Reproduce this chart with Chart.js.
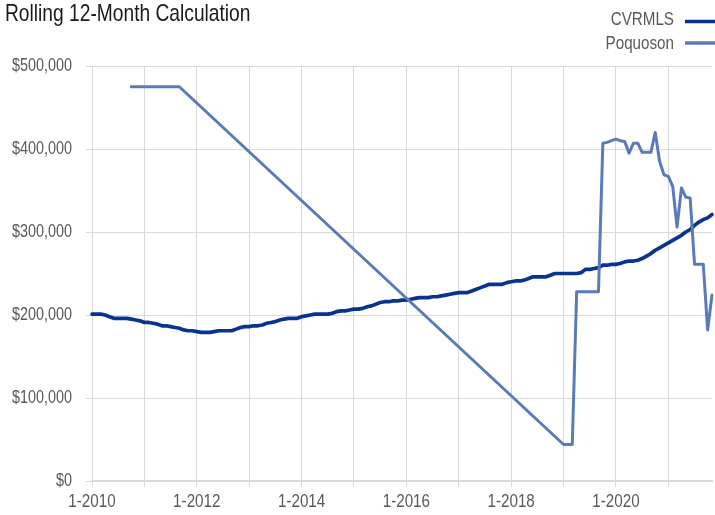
<!DOCTYPE html>
<html><head><meta charset="utf-8">
<script src="https://cdn.jsdelivr.net/npm/chart.js@4/dist/chart.umd.min.js"></script>
<style>html,body{margin:0;padding:0;background:#fff;overflow:hidden}</style>
</head><body>
<canvas id="c" width="715" height="515"></canvas>
<script>
const chartTitle = 'Rolling 12-Month Calculation';
const categories = [
 '1-2010','2-2010','3-2010','4-2010','5-2010','6-2010','7-2010','8-2010','9-2010','10-2010','11-2010','12-2010',
 '1-2011','2-2011','3-2011','4-2011','5-2011','6-2011','7-2011','8-2011','9-2011','10-2011','11-2011','12-2011',
 '1-2012','2-2012','3-2012','4-2012','5-2012','6-2012','7-2012','8-2012','9-2012','10-2012','11-2012','12-2012',
 '1-2013','2-2013','3-2013','4-2013','5-2013','6-2013','7-2013','8-2013','9-2013','10-2013','11-2013','12-2013',
 '1-2014','2-2014','3-2014','4-2014','5-2014','6-2014','7-2014','8-2014','9-2014','10-2014','11-2014','12-2014',
 '1-2015','2-2015','3-2015','4-2015','5-2015','6-2015','7-2015','8-2015','9-2015','10-2015','11-2015','12-2015',
 '1-2016','2-2016','3-2016','4-2016','5-2016','6-2016','7-2016','8-2016','9-2016','10-2016','11-2016','12-2016',
 '1-2017','2-2017','3-2017','4-2017','5-2017','6-2017','7-2017','8-2017','9-2017','10-2017','11-2017','12-2017',
 '1-2018','2-2018','3-2018','4-2018','5-2018','6-2018','7-2018','8-2018','9-2018','10-2018','11-2018','12-2018',
 '1-2019','2-2019','3-2019','4-2019','5-2019','6-2019','7-2019','8-2019','9-2019','10-2019','11-2019','12-2019',
 '1-2020','2-2020','3-2020','4-2020','5-2020','6-2020','7-2020','8-2020','9-2020','10-2020','11-2020','12-2020',
 '1-2021','2-2021','3-2021','4-2021','5-2021','6-2021','7-2021','8-2021','9-2021','10-2021','11-2021'
];
const xTickLabels = ['1-2010','1-2012','1-2014','1-2016','1-2018','1-2020'];
const yTickValues = [0,100000,200000,300000,400000,500000];

const cvrmlsValues = [
 201000,201000,201000,200000,198000,196000,196000,196000,196000,195000,
 194000,193000,191000,191000,190000,189000,187000,187000,186000,185000,
 184000,182000,181000,181000,180000,179000,179000,179000,180000,181000,
 181000,181000,181000,183000,185000,186000,186000,187000,187000,188000,
 190000,191000,192000,194000,195000,196000,196000,196000,198000,199000,
 200000,201000,201000,201000,201000,202000,204000,205000,205000,206000,
 207000,207000,208000,210000,211000,213000,215000,216000,216000,217000,
 217000,218000,218000,219000,220000,221000,221000,221000,222000,222000,
 223000,224000,225000,226000,227000,227000,227000,229000,231000,233000,
 235000,237000,237000,237000,237000,239000,240000,241000,241000,242000,
 244000,246000,246000,246000,246000,248000,250000,250000,250000,250000,
 250000,250000,251000,255000,255000,256000,257000,260000,260000,261000,
 261000,262000,264000,265000,265000,266000,268000,271000,274000,278000,
 281000,284000,287000,290000,293000,296000,300000,303000,308000,312000,
 315000,317000,321000
];

const poquosonMonths = [
 '10-2010','11-2010','12-2010','1-2011','2-2011','3-2011','4-2011','5-2011','6-2011','7-2011','8-2011','9-2011',
 '1-2019','2-2019','3-2019','4-2019','5-2019','6-2019','7-2019','8-2019','9-2019',
 '10-2019','11-2019','12-2019','1-2020','2-2020','3-2020','4-2020','5-2020','6-2020','7-2020','8-2020','9-2020',
 '10-2020','11-2020','12-2020','1-2021','2-2021','3-2021','4-2021','5-2021','6-2021','7-2021','8-2021','9-2021',
 '10-2021','11-2021'
];
const poquosonValues = [
 475000,475000,475000,475000,475000,475000,475000,475000,475000,475000,475000,475000,
 44000,44000,44000,228000,228000,228000,228000,228000,228000,
 407000,408000,410000,412000,410000,409000,395000,407000,407000,396000,396000,396000,
 420000,385000,369000,367000,355000,306000,353000,342000,341000,261000,261000,261000,
 182000,224000
];

const seriesNames = ['CVRMLS','Poquoson'];
const seriesColors = ['#08348f','#5a7bb8'];

// Condensed look: draw all canvas text horizontally compressed (no narrow font installed)
(function () {
  const P = CanvasRenderingContext2D.prototype;
  const f = P.fillText, m = P.measureText;
  const SX = 0.8;
  P.fillText = function (t, x, y, mw) {
    this.save(); this.translate(x, y); this.scale(SX, 1);
    if (mw !== undefined) f.call(this, t, 0, 0, mw / SX); else f.call(this, t, 0, 0);
    this.restore();
  };
  P.measureText = function (t) {
    const r = m.call(this, t);
    return {
      width: r.width * SX,
      actualBoundingBoxAscent: r.actualBoundingBoxAscent,
      actualBoundingBoxDescent: r.actualBoundingBoxDescent,
      actualBoundingBoxLeft: r.actualBoundingBoxLeft * SX,
      actualBoundingBoxRight: r.actualBoundingBoxRight * SX,
      fontBoundingBoxAscent: r.fontBoundingBoxAscent,
      fontBoundingBoxDescent: r.fontBoundingBoxDescent
    };
  };
})();

const FONT = '"Liberation Sans", Arial, sans-serif';
const GRID = '#d9d9d9';

const headerPlugin = {
  id: 'header',
  afterDraw(chart) {
    const ctx = chart.ctx;
    ctx.save();
    ctx.fillStyle = '#1a1a1a';
    ctx.font = '24px ' + FONT;
    ctx.textAlign = 'left';
    ctx.textBaseline = 'alphabetic';
    ctx.fillText(chartTitle, 5, 21);
    const rows = [19.5, 43.5];
    const lineRows = [21.5, 43];
    ctx.font = '19px ' + FONT;
    ctx.textAlign = 'right';
    ctx.textBaseline = 'middle';
    chart.data.datasets.forEach((ds, i) => {
      ctx.fillStyle = '#595959';
      ctx.fillText(ds.label, 674, rows[i]);
      ctx.strokeStyle = ds.borderColor;
      ctx.lineWidth = 3.5;
      ctx.beginPath();
      ctx.moveTo(685, lineRows[i]);
      ctx.lineTo(715, lineRows[i]);
      ctx.stroke();
    });
    ctx.restore();
  }
};

new Chart(document.getElementById('c'), {
  type: 'line',
  data: {
    labels: categories,
    datasets: [
      { label: seriesNames[0], data: cvrmlsValues, borderColor: seriesColors[0], backgroundColor: seriesColors[0],
        borderWidth: 3.7, pointRadius: 0, tension: 0, order: 1, borderJoinStyle: 'round', borderCapStyle: 'round' },
      { label: seriesNames[1], data: poquosonMonths.map((m, i) => ({ x: m, y: poquosonValues[i] })),
        borderColor: seriesColors[1], backgroundColor: seriesColors[1],
        borderWidth: 3, pointRadius: 0, tension: 0, order: 0, borderJoinStyle: 'round', borderCapStyle: 'round' }
    ]
  },
  options: {
    responsive: false,
    animation: false,
    layout: { padding: { top: 66, right: 2, left: 0, bottom: 0 } },
    plugins: { legend: { display: false }, title: { display: false }, tooltip: { enabled: false } },
    scales: {
      x: {
        type: 'category',
        grid: {
          color: c => (c.index % 12 === 0 ? GRID : 'rgba(0,0,0,0)'),
          lineWidth: 1, tickLength: 6, drawTicks: true
        },
        border: { color: GRID, width: 2 },
        ticks: {
          autoSkip: false, maxRotation: 0, minRotation: 0, padding: 3,
          color: '#595959', font: { family: FONT, size: 19 },
          callback: function (v, i) { const l = categories[i]; return xTickLabels.includes(l) ? l : ''; }
        },
        afterFit: s => { s.height = 34; }
      },
      y: {
        min: 0, max: 500000,
        afterBuildTicks: s => { s.ticks = yTickValues.map(v => ({ value: v })); },
        grid: { color: GRID, lineWidth: 1, tickLength: 6 },
        border: { color: GRID, width: 1 },
        ticks: {
          padding: 14, color: '#595959', font: { family: FONT, size: 18 },
          callback: v => '$' + Number(v).toLocaleString('en-US')
        },
        afterFit: s => { s.width = 92; }
      }
    }
  },
  plugins: [headerPlugin]
});
</script>
</body></html>
